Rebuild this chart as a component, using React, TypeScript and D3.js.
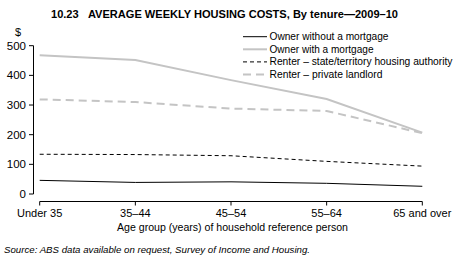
import React from "react";
import * as d3 from "d3";

const categories = ["Under 35", "35–44", "45–54", "55–64", "65 and over"];
const ownerWithout = [46, 39, 41, 36, 26];
const ownerWith = [468, 452, 384, 320, 207];
const renterState = [134, 133, 129, 110, 94];
const renterPrivate = [319, 310, 288, 280, 205];
const yTicks = [0, 100, 200, 300, 400, 500];

const series = [
  { name: "Owner without a mortgage", values: ownerWithout, color: "#000", width: 1, dash: "", tl: 119 },
  { name: "Owner with a mortgage", values: ownerWith, color: "#c4c4c4", width: 2, dash: "", tl: 104 },
  { name: "Renter – state/territory housing authority", values: renterState, color: "#000", width: 1, dash: "4,3", tl: 183 },
  { name: "Renter – private landlord", values: renterPrivate, color: "#c4c4c4", width: 2, dash: "8,5", tl: 113 },
];

const FONT = "'Liberation Sans', Arial, sans-serif";

export default function App() {
  const x = d3.scalePoint<string>().domain(categories).range([39.7, 422.3]);
  const y = d3.scaleLinear().domain([0, 500]).range([194, 45.7]);
  const line = (vals: number[]) =>
    d3.line<number>().x((_, i) => x(categories[i]) as number).y((v) => y(v))(vals) || "";

  return (
    <svg width={462} height={259} style={{ position: "absolute", left: 0, top: 0, background: "#fff" }} fontFamily={FONT}>
      <text x={51} y={17.5} fontSize={11.5} fontWeight="bold" fill="#000" textLength={347} lengthAdjust="spacingAndGlyphs">
        10.23{"\u00a0\u00a0\u00a0"}AVERAGE WEEKLY HOUSING COSTS, By tenure—2009–10
      </text>
      <text x={18} y={36} fontSize={11} textAnchor="middle" fill="#000">$</text>
      {/* y axis */}
      <line x1={33.5} x2={33.5} y1={y(500)} y2={y(0)} stroke="#000" strokeWidth={1} />
      {yTicks.map((t) => (
        <g key={t}>
          <line x1={29} x2={33.5} y1={y(t)} y2={y(t)} stroke="#000" strokeWidth={1} />
          <text x={26} y={y(t)} dy="0.35em" fontSize={11.5} textAnchor="end" fill="#000">{t}</text>
        </g>
      ))}
      {/* x axis */}
      <line x1={x(categories[0])} x2={x(categories[4])} y1={201.5} y2={201.5} stroke="#000" strokeWidth={1} />
      {categories.map((c) => (
        <g key={c}>
          <line x1={x(c)} x2={x(c)} y1={201.5} y2={205.5} stroke="#000" strokeWidth={1} />
          <text x={x(c)} y={217} fontSize={11} textAnchor="middle" fill="#000">{c}</text>
        </g>
      ))}
      <text x={232.5} y={231} fontSize={11} textAnchor="middle" fill="#000" textLength={231} lengthAdjust="spacingAndGlyphs">
        Age group (years) of household reference person
      </text>
      {/* series */}
      {series.map((s) => (
        <path key={s.name} d={line(s.values)} fill="none" stroke={s.color} strokeWidth={s.width} strokeDasharray={s.dash || undefined} />
      ))}
      {/* legend */}
      {series.map((s, i) => {
        const ly = 36.7 + i * 12.6;
        return (
          <g key={s.name}>
            <line x1={243} x2={267} y1={ly} y2={ly} stroke={s.color} strokeWidth={s.width} strokeDasharray={s.dash || undefined} />
            <text x={269.5} y={ly} dy="0.35em" fontSize={10} fill="#000" textLength={s.tl} lengthAdjust="spacingAndGlyphs">{s.name}</text>
          </g>
        );
      })}
      <text x={4} y={253} fontSize={9.5} fontStyle="italic" fill="#000" textLength={306} lengthAdjust="spacingAndGlyphs">
        Source: ABS data available on request, Survey of Income and Housing.
      </text>
    </svg>
  );
}
